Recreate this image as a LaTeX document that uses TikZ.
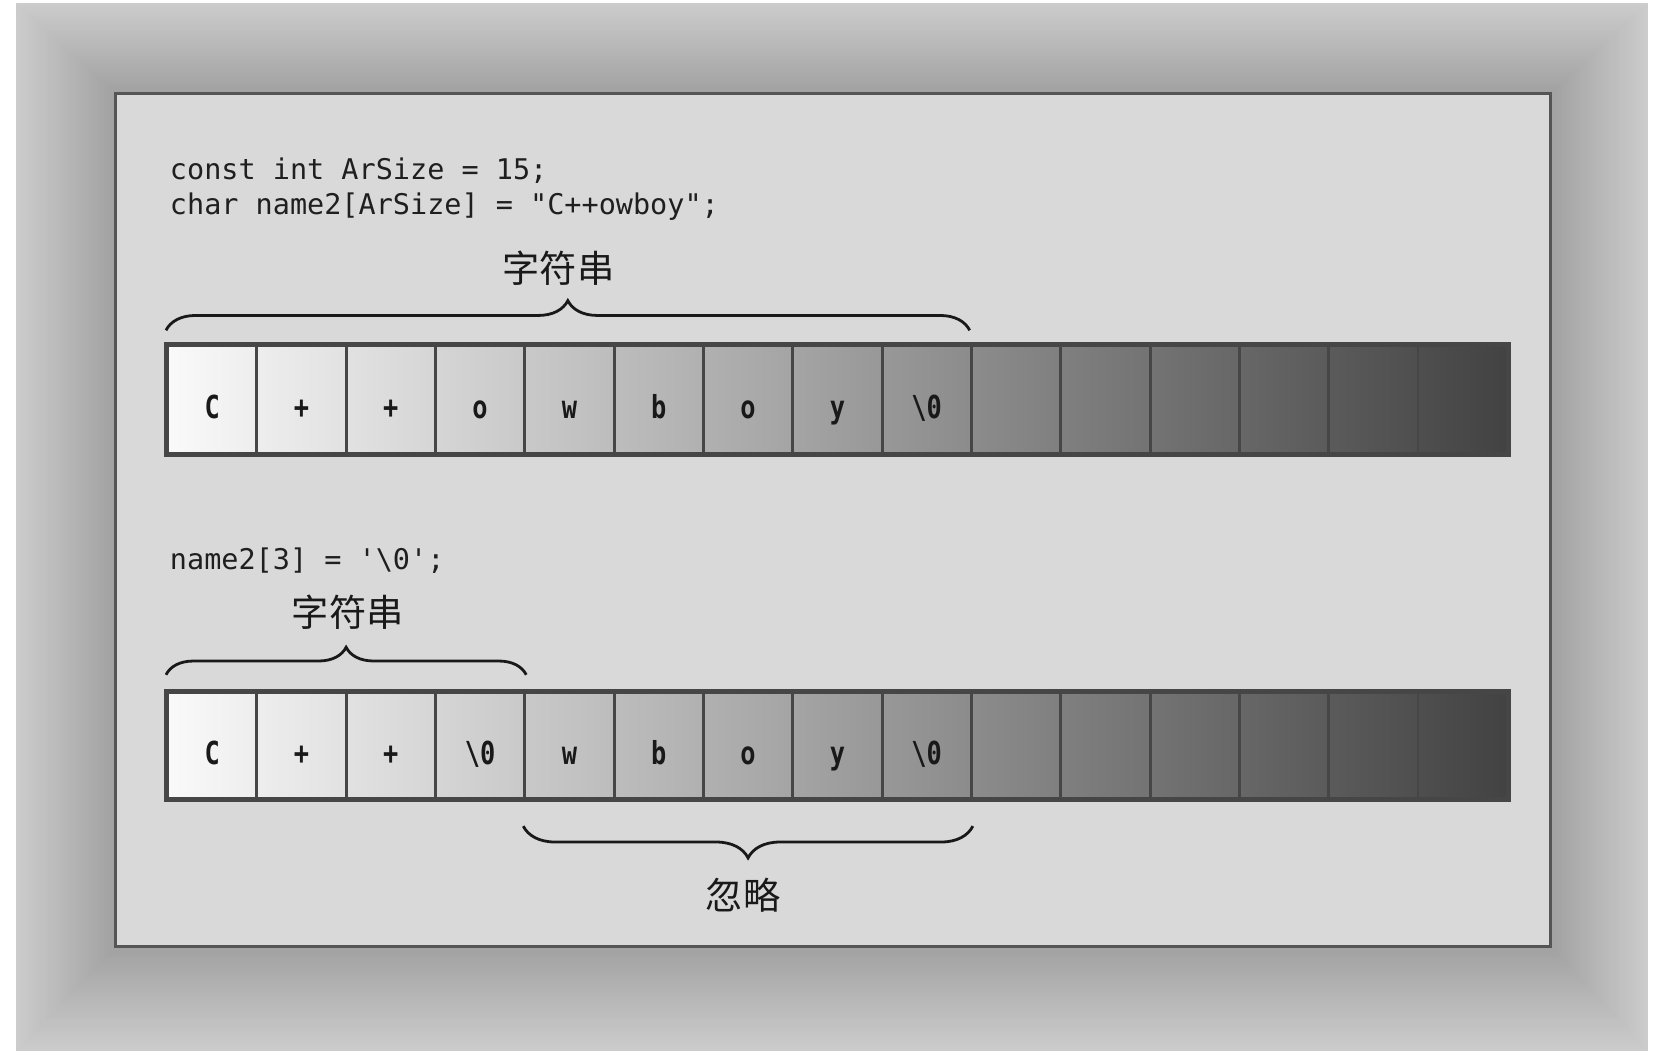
\documentclass[tikz,border=0pt]{standalone}
\usepackage{fontspec}
\setmonofont{DejaVu Sans Mono}
\newfontfamily\cellfont[FakeStretch=0.8]{DejaVu Sans Mono}
\newfontfamily\cjkfont{Noto Sans CJK SC}
\usetikzlibrary{decorations.pathreplacing,calc}
\definecolor{edge}{HTML}{464646}
\definecolor{panelfill}{HTML}{D9D9D9}
\definecolor{paneledge}{HTML}{555555}
\begin{document}
\begin{tikzpicture}[x=0.02cm,y=-0.02cm,
  cellbox/.style={draw=edge, line width=1.6pt, minimum width=1.6854cm, minimum height=2.04cm,
    inner sep=0pt, text height=20.4pt, text depth=0pt,
    font=\cellfont\bfseries\fontsize{17}{17}\selectfont, text=black!90},
  cellbox2/.style={cellbox, minimum height=2.0cm, text height=20.4pt},
  codetext/.style={anchor=base west, inner sep=0pt, font=\ttfamily\fontsize{15.3}{18}\selectfont, text=black!88},
  cjklabel/.style={inner sep=0pt, font=\cjkfont\fontsize{20}{20}\selectfont, text=black!90},
  bracestyle/.style={decorate, decoration={brace, amplitude=#1}, line width=1.5pt, black!90},
  rowedge/.style={draw=edge, line width=2.2pt}
]
\fill[white] (0,0) rectangle (1568,995);
\useasboundingbox (0,0) rectangle (1568,995);
% outer gradient frame
\foreach \k in {0,...,44}{
  \pgfmathsetmacro\ft{\k/45}
  \pgfmathsetmacro\gl{80-17*\ft}
  \fill[white!\gl!black] ({15+94*\ft},{3+85*\ft}) rectangle ({1555-92*\ft},{992-99*\ft});
}
% panel
\draw[fill=panelfill, draw=paneledge, line width=1.7pt] (109,88) rectangle (1463,893);
% code
\node[codetext] (code1) at (160,169) {const int ArSize = 15;};
\node[codetext] (code2) at (160,202) {char name2[ArSize] = "C++owboy";};
\node[codetext] (code3) at (160,537) {name2[3] = '\textbackslash0';};
% row 1
\foreach \i/\t in {0/C,1/+,2/+,3/o,4/w,5/b,6/o,7/y,8/{\textbackslash0},9/{},10/{},11/{},12/{},13/{},14/{}}{
  \pgfmathsetmacro\pl{98-4.8*\i}
  \pgfmathsetmacro\pr{\pl-4.8}
  \node[cellbox, left color=white!\pl!black, right color=white!\pr!black] (a\i) at ({158+84.27*(\i+0.5)},377) {\t};
}
\draw[rowedge] (a0.north west) rectangle (a14.south east);
% row 2
\foreach \i/\t in {0/C,1/+,2/+,3/{\textbackslash0},4/w,5/b,6/o,7/y,8/{\textbackslash0},9/{},10/{},11/{},12/{},13/{},14/{}}{
  \pgfmathsetmacro\pl{98-4.8*\i}
  \pgfmathsetmacro\pr{\pl-4.8}
  \node[cellbox2, left color=white!\pl!black, right color=white!\pr!black] (b\i) at ({158+84.27*(\i+0.5)},703) {\t};
}
\draw[rowedge] (b0.north west) rectangle (b14.south east);
% braces
\draw[bracestyle=0.56cm] ([yshift=0.26cm]a0.north west) -- ([yshift=0.26cm,xshift=-0.06cm]a8.north east);
\draw[bracestyle=0.52cm] ([yshift=0.3cm]b0.north west) -- ([yshift=0.3cm]b3.north east);
\draw[bracestyle=0.6cm] ([yshift=-0.5cm]b8.south east) -- ([yshift=-0.5cm]b4.south west);
% labels
\node[cjklabel] (lab1) at (527,253) {字符串};
\node[cjklabel] (lab2) at (328,578) {字符串};
\node[cjklabel] (lab3) at (701,845) {忽略};
\end{tikzpicture}
\end{document}
